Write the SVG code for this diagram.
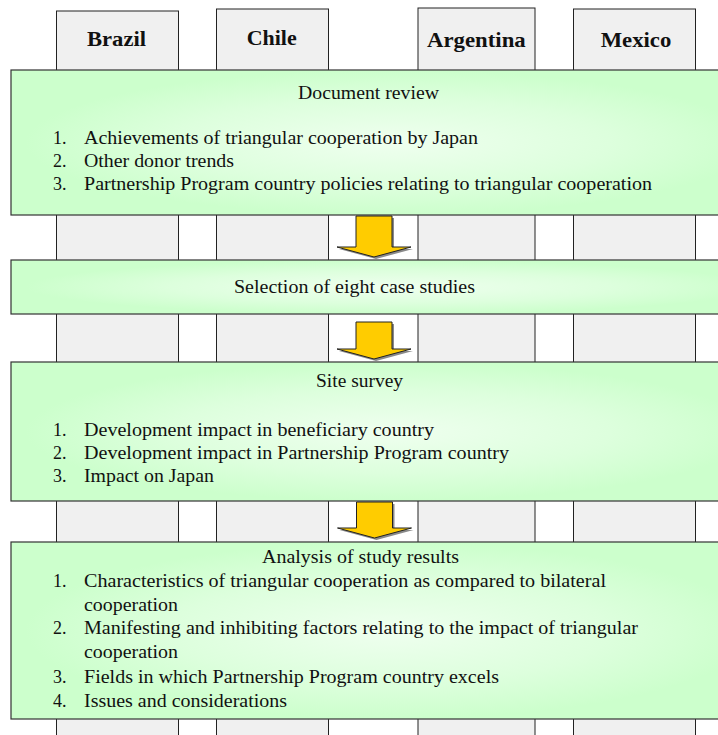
<svg xmlns="http://www.w3.org/2000/svg" width="718" height="735" viewBox="0 0 718 735">
<style>
.col{fill:#F0F0F0;stroke:#222;stroke-width:1}
.box{stroke:#333;stroke-width:1.2}
.hd{font-family:"Liberation Serif","Times New Roman",serif;font-weight:bold;font-size:21px;fill:#111}
.t{font-family:"Liberation Serif","Times New Roman",serif;font-size:18px;fill:#111}
.arr{fill:#FFCC00;stroke:#222;stroke-width:1}
.sh{fill:#8a8a8a}
</style>
<defs>
<radialGradient id="g" cx="0.52" cy="0.5" r="0.5">
<stop offset="0" stop-color="#EFFFEF"/>
<stop offset="0.6" stop-color="#DDFFDD"/>
<stop offset="1" stop-color="#CCFFCC"/>
</radialGradient>
</defs>
<rect width="718" height="735" fill="#fff"/>
<g id="col-brazil"><rect class="col" x="56.5" y="11" width="122" height="735"/><text class="hd" x="87" y="45.5" textLength="59" lengthAdjust="spacingAndGlyphs">Brazil</text></g>
<g id="col-chile"><rect class="col" x="216.5" y="9" width="112" height="735"/><text class="hd" x="246.7" y="45" textLength="50" lengthAdjust="spacingAndGlyphs">Chile</text></g>
<g id="col-argentina"><rect class="col" x="418" y="8" width="117" height="735"/><text class="hd" x="427" y="46.5" textLength="98.7" lengthAdjust="spacingAndGlyphs">Argentina</text></g>
<g id="col-mexico"><rect class="col" x="573.5" y="9" width="122" height="735"/><text class="hd" x="600.7" y="46.5" textLength="70.6" lengthAdjust="spacingAndGlyphs">Mexico</text></g>
<g id="box-document-review">
<rect class="box" x="11" y="70" width="730" height="145" fill="url(#g)"/>
<text class="t" x="298" y="99" textLength="141" lengthAdjust="spacingAndGlyphs">Document review</text>
<text class="t" x="53" y="144">1.</text><text class="t" x="84" y="144" textLength="394" lengthAdjust="spacingAndGlyphs">Achievements of triangular cooperation by Japan</text>
<text class="t" x="53" y="167">2.</text><text class="t" x="84" y="167" textLength="150" lengthAdjust="spacingAndGlyphs">Other donor trends</text>
<text class="t" x="53" y="190">3.</text><text class="t" x="84" y="190" textLength="568" lengthAdjust="spacingAndGlyphs">Partnership Program country policies relating to triangular cooperation</text>
</g>
<g id="box-selection">
<rect class="box" x="11" y="260" width="730" height="54" fill="url(#g)"/>
<text class="t" x="234" y="293" textLength="241" lengthAdjust="spacingAndGlyphs">Selection of eight case studies</text>
</g>
<g id="box-site-survey">
<rect class="box" x="11" y="362" width="730" height="139" fill="url(#g)"/>
<text class="t" x="316" y="387" textLength="87" lengthAdjust="spacingAndGlyphs">Site survey</text>
<text class="t" x="53" y="436">1.</text><text class="t" x="84" y="436" textLength="350" lengthAdjust="spacingAndGlyphs">Development impact in beneficiary country</text>
<text class="t" x="53" y="459">2.</text><text class="t" x="84" y="459" textLength="425" lengthAdjust="spacingAndGlyphs">Development impact in Partnership Program country</text>
<text class="t" x="53" y="482">3.</text><text class="t" x="84" y="482" textLength="130" lengthAdjust="spacingAndGlyphs">Impact on Japan</text>
</g>
<g id="box-analysis">
<rect class="box" x="11" y="542" width="730" height="177" fill="url(#g)"/>
<text class="t" x="262" y="563" textLength="197" lengthAdjust="spacingAndGlyphs">Analysis of study results</text>
<text class="t" x="53" y="587">1.</text><text class="t" x="84" y="587" textLength="522" lengthAdjust="spacingAndGlyphs">Characteristics of triangular cooperation as compared to bilateral</text>
<text class="t" x="84" y="611" textLength="94" lengthAdjust="spacingAndGlyphs">cooperation</text>
<text class="t" x="53" y="634">2.</text><text class="t" x="84" y="634" textLength="554" lengthAdjust="spacingAndGlyphs">Manifesting and inhibiting factors relating to the impact of triangular</text>
<text class="t" x="84" y="658" textLength="94" lengthAdjust="spacingAndGlyphs">cooperation</text>
<text class="t" x="53" y="683">3.</text><text class="t" x="84" y="683" textLength="415" lengthAdjust="spacingAndGlyphs">Fields in which Partnership Program country excels</text>
<text class="t" x="53" y="707">4.</text><text class="t" x="84" y="707" textLength="203" lengthAdjust="spacingAndGlyphs">Issues and considerations</text>
</g>
<g id="connectors">
<polygon class="sh" points="358,218 394,218 394,249 413,249 376,259 339,249 358,249"/>
<polygon class="arr" points="356,216 392,216 392,247 411,247 374,257 337,247 356,247"/>
<polygon class="sh" points="358,324 394,324 394,351 413,351 376,361 339,351 358,351"/>
<polygon class="arr" points="356,322 392,322 392,349 411,349 374,359 337,349 356,349"/>
<polygon class="sh" points="358.5,504 394.5,504 394.5,530 413.5,530 376.5,540 339.5,530 358.5,530"/>
<polygon class="arr" points="356.5,502 392.5,502 392.5,528 411.5,528 374.5,538 337.5,528 356.5,528"/>
</g>
</svg>
